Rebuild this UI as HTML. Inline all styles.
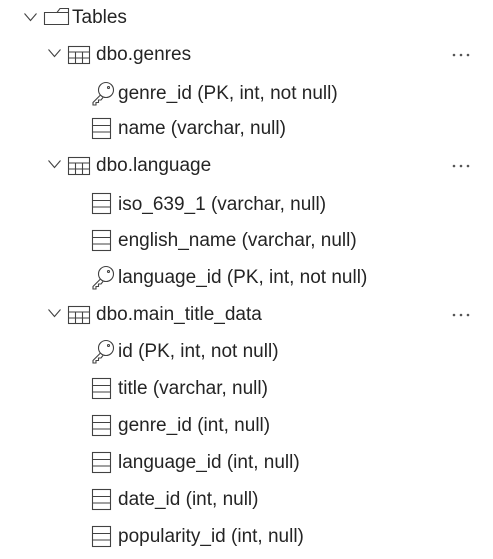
<!DOCTYPE html>
<html><head><meta charset="utf-8"><style>
body{margin:0;width:493px;height:559px;background:#fff;position:relative;overflow:hidden;font-family:"Segoe UI","Liberation Sans",sans-serif;color:#242424;font-size:19px}
.t{position:absolute;line-height:24px;white-space:nowrap}
svg{position:absolute;overflow:visible}
</style></head><body>
<svg width="493" height="559" style="left:0;top:0" fill="none" stroke="#424242" stroke-width="1.1">
<defs>
<g id="chev"><polyline points="0,0 6,7 12,0"/></g>
<g id="tbl"><rect x="0.5" y="0.5" width="21" height="17"/><line x1="0.5" y1="6" x2="21.5" y2="6"/><line x1="0.5" y1="12" x2="21.5" y2="12"/><line x1="7.5" y1="6" x2="7.5" y2="18"/><line x1="14.5" y1="6" x2="14.5" y2="18"/></g>
<g id="col"><rect x="0.5" y="0.5" width="18" height="20"/><line x1="0.5" y1="7.5" x2="18.5" y2="7.5"/><line x1="0.5" y1="14" x2="18.5" y2="14"/></g>
<g id="key"><circle cx="14" cy="8" r="7.5"/><path d="M8.5 13 L1 20.5 L1 23 L4 23 L4 20.5 L6.5 20.5 L6.5 18 L9 18 L11 15.5"/><circle cx="16.5" cy="5.5" r="1"/></g>
</defs>
<use href="#chev" x="24.5" y="13.5"/>
<path d="M44.5 12.5 H57 L60 8.5 H68.5 V24.5 H44.5 Z M57 12.5 H68.5"/>
<use href="#chev" x="48.5" y="49.5"/><use href="#tbl" x="68" y="46"/>
<use href="#key" x="92" y="82"/>
<use href="#col" x="92" y="118"/>
<use href="#chev" x="48.5" y="160.5"/><use href="#tbl" x="68" y="157"/>
<use href="#col" x="92" y="193"/>
<use href="#col" x="92" y="230"/>
<use href="#key" x="92" y="266"/>
<use href="#chev" x="48.5" y="309.5"/><use href="#tbl" x="68" y="306"/>
<use href="#key" x="92" y="340"/>
<use href="#col" x="92" y="378"/>
<use href="#col" x="92" y="415"/>
<use href="#col" x="92" y="452"/>
<use href="#col" x="92" y="489"/>
<use href="#col" x="92" y="526"/>
<g fill="#555" stroke="none">
<circle cx="454" cy="55" r="1.3"/><circle cx="461" cy="55" r="1.3"/><circle cx="468" cy="55" r="1.3"/>
<circle cx="454" cy="166" r="1.3"/><circle cx="461" cy="166" r="1.3"/><circle cx="468" cy="166" r="1.3"/>
<circle cx="454" cy="315" r="1.3"/><circle cx="461" cy="315" r="1.3"/><circle cx="468" cy="315" r="1.3"/>
</g>
</svg>
<div class="t" style="left:72px;top:6px">Tables</div>
<div class="t" style="left:96px;top:43px">dbo.genres</div>
<div class="t" style="left:118px;top:82px">genre_id (PK, int, not null)</div>
<div class="t" style="left:118px;top:117px">name (varchar, null)</div>
<div class="t" style="left:96px;top:154px">dbo.language</div>
<div class="t" style="left:118px;top:193px">iso_639_1 (varchar, null)</div>
<div class="t" style="left:118px;top:229px">english_name (varchar, null)</div>
<div class="t" style="left:118px;top:266px">language_id (PK, int, not null)</div>
<div class="t" style="left:96px;top:303px">dbo.main_title_data</div>
<div class="t" style="left:118px;top:340px">id (PK, int, not null)</div>
<div class="t" style="left:118px;top:377px">title (varchar, null)</div>
<div class="t" style="left:118px;top:414px">genre_id (int, null)</div>
<div class="t" style="left:118px;top:451px">language_id (int, null)</div>
<div class="t" style="left:118px;top:488px">date_id (int, null)</div>
<div class="t" style="left:118px;top:525px">popularity_id (int, null)</div>
</body></html>
